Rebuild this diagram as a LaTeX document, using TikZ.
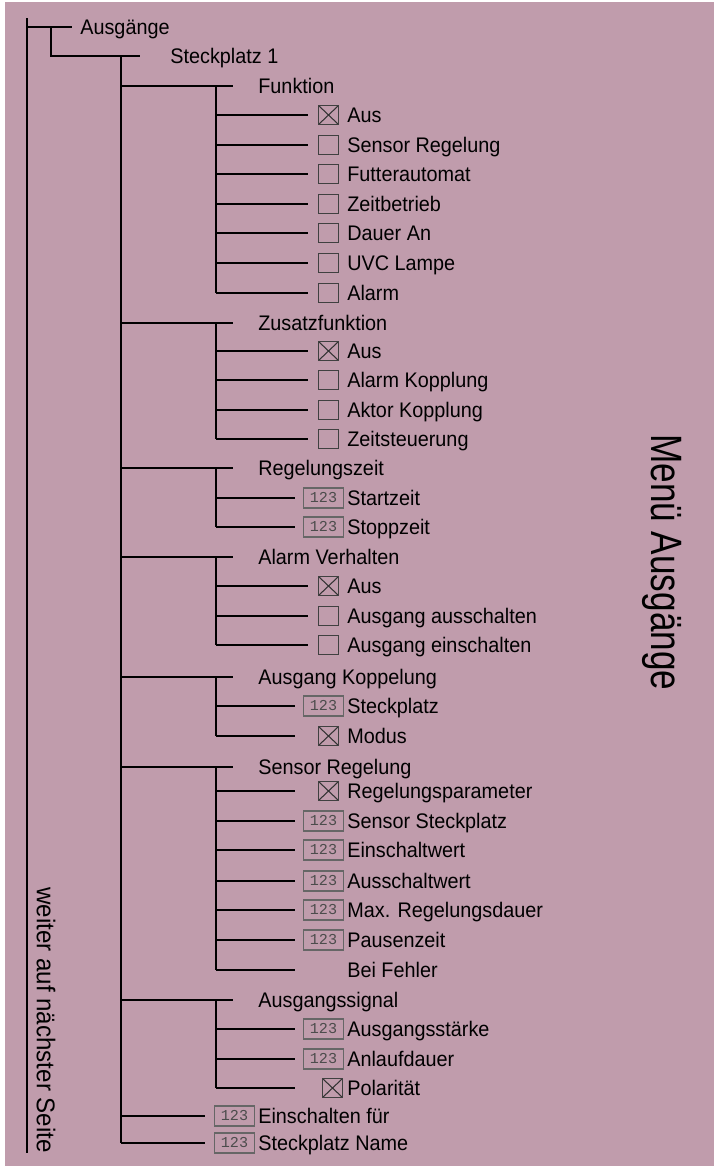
\documentclass[tikz,border=0pt]{standalone}
\usepackage{fontspec}
\setmainfont{Liberation Sans}
\setmonofont{Liberation Mono}
\newfontfamily\eintragfont[FakeStretch=0.94]{Liberation Sans}
\newfontfamily\titelfont[FakeStretch=0.8]{Liberation Sans}
\usetikzlibrary{positioning}

\definecolor{menubg}{RGB}{192,156,172}

\tikzset{
	ast/.style={line width=1.6pt},
	eintrag/.style={anchor=base west, inner sep=0pt, font=\eintragfont\fontsize{12}{14}\selectfont},
	kasten/.style={draw=black!75, line width=0.6pt, inner sep=0pt, anchor=west},
	kaestchen/.style={kasten, minimum width=0.4cm, minimum height=0.38cm, node contents={}},
	kreuz/.style={kaestchen, path picture={
		\draw[black!80, line width=0.6pt] (path picture bounding box.south west) -- (path picture bounding box.north east)
		(path picture bounding box.north west) -- (path picture bounding box.south east);}},
	zahl/.style={kasten, draw=black!60, minimum width=0.8cm, minimum height=0.4cm,
		font=\ttfamily\fontsize{8.6}{9}\selectfont, text=black!70, node contents={123}},
	leer/.style={inner sep=0pt, anchor=west, node contents={}},
	weiter/.style={rotate=-90, anchor=west, inner sep=0pt, font=\eintragfont\fontsize{14.6}{17}\selectfont},
	titel/.style={rotate=-90, anchor=west, inner sep=0pt, font=\titelfont\fontsize{25}{30}\selectfont},
}

\begin{document}
\begin{tikzpicture}[x=0.02cm, y=-0.02cm]
	\useasboundingbox (0,0) rectangle (714,1171);
	\fill[menubg] (5,2) rectangle (714,1166);
	
	% Hauptstamm
	\coordinate (w0) at (27,18);
	\coordinate (w1) at (27,1153);
	\draw[ast] (w0) -- (w1);
	\node (weiter) at (46,887) [weiter] {weiter auf nächster Seite};
	\node (titel) at (662,434) [titel] {Menü Ausgänge};
	
	% Ausgaenge
	\coordinate (ag-a) at (27,27);
	\coordinate (ag-e) at (72,27);
	\draw[ast] (ag-a) -- (ag-e);
	\node[eintrag] (ausg) at (80,34) {Ausgänge};
	
	% Steckplatz 1
	\coordinate (sp-o) at (51,27);
	\coordinate (sp-a) at (51,56);
	\coordinate (sp-e) at (140,56);
	\draw[ast] (sp-o) -- (sp-a) -- (sp-e);
	\node[eintrag] (sp) at (170,63) {Steckplatz 1};
	
	\coordinate (st0) at (121,56);
	\coordinate (st1) at (121,1143);
	\draw[ast] (st0) -- (st1);
	
	% Untermenues
	\foreach \n/\y/\u/\txt in {fu/86/293/Funktion, zf/323/439/Zusatzfunktion, rz/468/527/Regelungszeit,
		av/557/645/Alarm Verhalten, ak/677/736/Ausgang Koppelung, sr/767/970/Sensor Regelung, as/1000/1088/Ausgangssignal}{
		\coordinate (\n-a) at (121,\y);
		\coordinate (\n-e) at (233,\y);
		\coordinate (\n-o) at (216,\y);
		\coordinate (\n-u) at (216,\u);
		\draw[ast] (\n-a) -- (\n-e);
		\draw[ast] (\n-o) -- (\n-u);
		\node[eintrag] (\n) at (258,\y+7) {\txt};
	}
	
	% Eintraege
	\foreach \y/\xe/\art/\xm/\txt in {
		115/308/kreuz/318/Aus, 145/308/kaestchen/318/Sensor Regelung, 174/308/kaestchen/318/Futterautomat,
		204/308/kaestchen/318/Zeitbetrieb, 233/308/kaestchen/318/Dauer An, 263/308/kaestchen/318/UVC Lampe,
		293/308/kaestchen/318/Alarm,
		351/308/kreuz/318/Aus, 380/308/kaestchen/318/Alarm Kopplung, 410/308/kaestchen/318/Aktor Kopplung,
		439/308/kaestchen/318/Zeitsteuerung,
		498/295/zahl/303/Startzeit, 527/295/zahl/303/Stoppzeit,
		586/308/kreuz/318/Aus, 616/308/kaestchen/318/Ausgang ausschalten, 645/308/kaestchen/318/Ausgang einschalten,
		706/295/zahl/303/Steckplatz, 736/295/kreuz/318/Modus,
		791/295/kreuz/318/Regelungsparameter, 821/295/zahl/303/Sensor Steckplatz, 850/295/zahl/303/Einschaltwert,
		881/295/zahl/303/Ausschaltwert, 910/295/zahl/303/Max. Regelungsdauer, 940/295/zahl/303/Pausenzeit,
		970/295/leer/303/Bei Fehler,
		1029/295/zahl/303/Ausgangsstärke, 1059/295/zahl/303/Anlaufdauer, 1088/295/kreuz/322/Polarität}{
		\coordinate (s\y) at (216,\y);
		\coordinate (e\y) at (\xe,\y);
		\draw[ast] (s\y) -- (e\y);
		\node (m\y) at (\xm,\y) [\art];
		\node[eintrag] (t\y) at (347,\y+7) {\txt};
	}
	
	\foreach \y/\txt in {1116/Einschalten für, 1143/Steckplatz Name}{
		\coordinate (s\y) at (121,\y);
		\coordinate (e\y) at (205,\y);
		\draw[ast] (s\y) -- (e\y);
		\node (m\y) at (214,\y) [zahl];
		\node[eintrag] (t\y) at (258,\y+7) {\txt};
	}
\end{tikzpicture}
\end{document}
